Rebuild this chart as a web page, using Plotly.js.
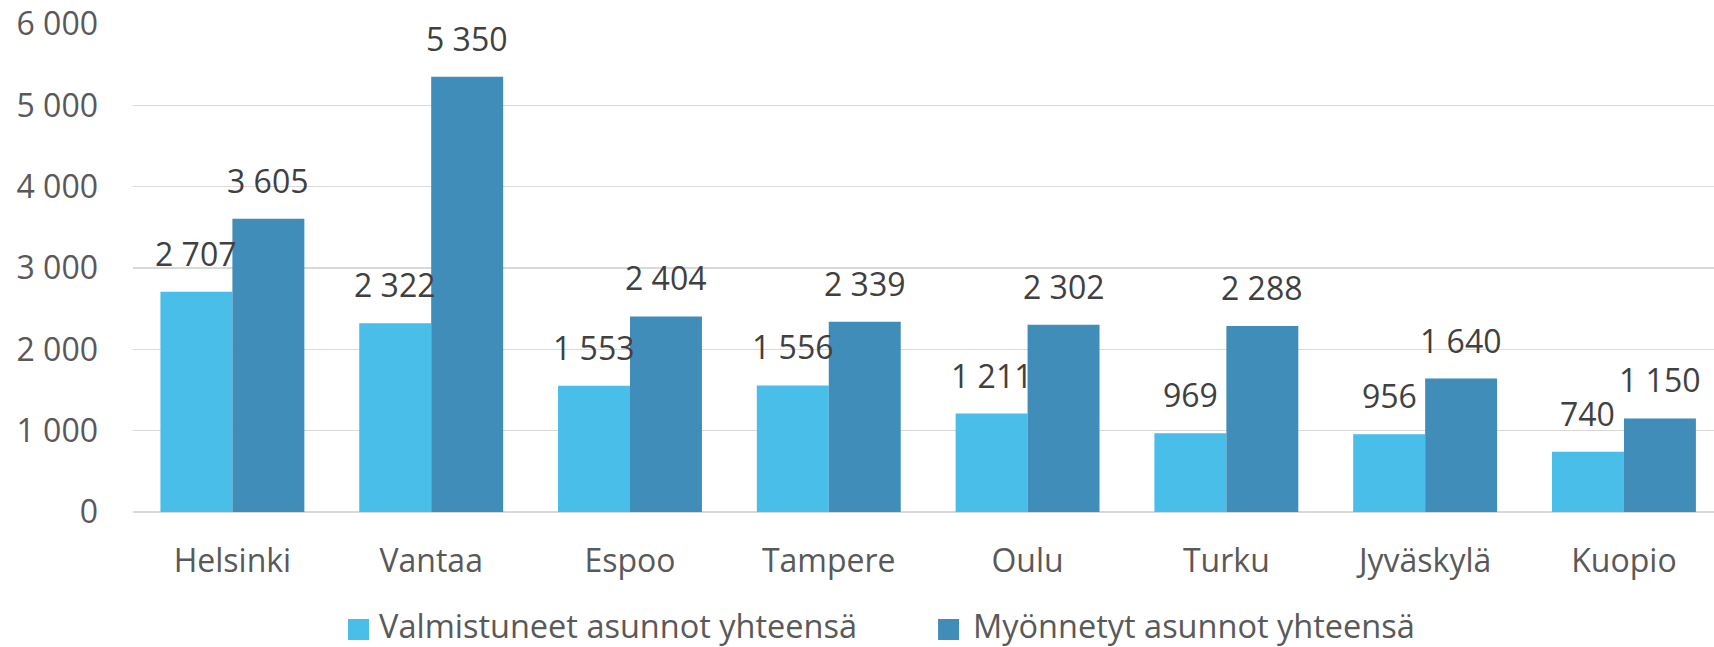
<!DOCTYPE html>
<html>
<head>
<meta charset="utf-8">
<script src="https://cdn.plot.ly/plotly-3.0.1.min.js"></script>
<style>html,body{margin:0;padding:0;background:#fff;}#chart{width:1714px;height:647px;}</style>
</head>
<body>
<div id="chart"></div>
<script>
const categories = ["Helsinki", "Vantaa", "Espoo", "Tampere", "Oulu", "Turku", "Jyväskylä", "Kuopio"];
const valmistuneet = [2707, 2322, 1553, 1556, 1211, 969, 956, 740];
const myonnetyt = [3605, 5350, 2404, 2339, 2302, 2288, 1640, 1150];
const seriesNames = ["Valmistuneet asunnot yhteensä", "Myönnetyt asunnot yhteensä"];
const yTickVals = [0, 1000, 2000, 3000, 4000, 5000, 6000];

const colors = ["#48BEE9", "#408DBA"];
const fmt = v => String(v).replace(/\B(?=(\d{3})+(?!\d))/g, " ");

const traces = [valmistuneet, myonnetyt].map((vals, i) => ({
  type: "bar",
  name: seriesNames[i],
  x: categories,
  y: vals,
  marker: {color: colors[i], line: {width: 0}},
  showlegend: false,
  hoverinfo: "x+y"
}));

const annotations = [];
[valmistuneet, myonnetyt].forEach((vals, i) => {
  vals.forEach((v, j) => {
    annotations.push({
      x: categories[j], y: v, xref: "x", yref: "y",
      text: fmt(v), showarrow: false,
      xshift: i === 0 ? -36 : 36, yshift: 15, yanchor: "bottom",
      font: {family: "Open Sans", size: 32, color: "#404040"}
    });
  });
});

// manual legend
const legendX = [[0.136, 0.1493], [0.5092, 0.5225]];
const legendTextX = [0.1543, 0.5299];
const shapes = [];
seriesNames.forEach((n, i) => {
  shapes.push({type: "rect", xref: "paper", yref: "paper",
    x0: legendX[i][0], x1: legendX[i][1], y0: -0.2623, y1: -0.2193,
    fillcolor: colors[i], line: {width: 0}});
  annotations.push({xref: "paper", yref: "paper", x: legendTextX[i], y: -0.2408,
    xanchor: "left", yanchor: "middle", text: n, showarrow: false, yshift: 4,
    font: {family: "Open Sans", size: 32.5, color: "#595959"}});
});

const layout = {
  width: 1714, height: 647,
  margin: {l: 133, r: 0, t: 24, b: 135, pad: 0},
  paper_bgcolor: "#fff", plot_bgcolor: "#fff",
  barmode: "group", bargap: 0.276, bargroupgap: 0,
  separators: ", ",
  font: {family: "Open Sans", size: 32, color: "#595959"},
  xaxis: {
    type: "category", range: [-0.5, 7.453], showgrid: false, zeroline: false,
    showline: false, ticks: "", ticklabelstandoff: 27,
    tickfont: {family: "Open Sans", size: 32, color: "#595959"}
  },
  yaxis: {
    range: [0, 6000], tickvals: yTickVals, tickformat: ",d",
    showgrid: true, gridcolor: "#D9D9D9", gridwidth: 1.6,
    zeroline: true, zerolinecolor: "#D9D9D9", zerolinewidth: 1.6,
    showline: false, ticks: "", ticklabelstandoff: 34,
    tickfont: {family: "Open Sans", size: 32, color: "#595959"}
  },
  annotations: annotations,
  shapes: shapes,
  showlegend: false
};

Plotly.newPlot("chart", traces, layout, {staticPlot: true, displayModeBar: false});
</script>
</body>
</html>
